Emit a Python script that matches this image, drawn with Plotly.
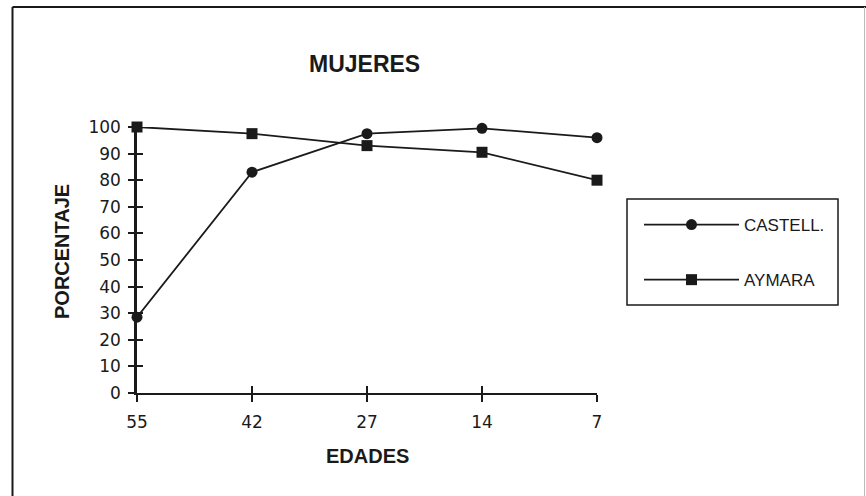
import plotly.graph_objects as go

edades = ["55", "42", "27", "14", "7"]
castell = [28.5, 83, 97.5, 99.5, 96]
aymara = [100, 97.5, 93, 90.5, 80]
y_ticks = [0, 10, 20, 30, 40, 50, 60, 70, 80, 90, 100]

W, H = 866, 496
L, R, T, B = 137, 269, 127, 103
PW, PH = W - L - R, H - T - B

def px(x):
    return (x - L) / PW

def py(y):
    return (H - B - y) / PH

INK = "#1a1a1a"
TICKFONT = dict(family="DejaVu Sans", size=17, color=INK)
BOLD = "Liberation Sans"

fig = go.Figure()
fig.add_trace(go.Scatter(
    x=edades, y=castell, name="CASTELL.", mode="lines+markers",
    line=dict(color=INK, width=1.8),
    marker=dict(symbol="circle", size=11, color=INK),
    cliponaxis=False, legendgroup="a",
))
fig.add_trace(go.Scatter(
    x=edades, y=aymara, name="AYMARA", mode="lines+markers",
    line=dict(color=INK, width=1.8),
    marker=dict(symbol="square", size=11, color=INK),
    cliponaxis=False, legendgroup="b",
))

fig.update_layout(
    width=W, height=H,
    margin=dict(l=L, r=R, t=T, b=B),
    paper_bgcolor="white", plot_bgcolor="white",
    showlegend=True,
    legend=dict(
        x=px(639), y=py(207), xanchor="left", yanchor="top",
        borderwidth=0, bgcolor="rgba(0,0,0,0)",
        font=dict(family="Liberation Sans", size=17, color=INK),
        itemwidth=95, tracegroupgap=30,
    ),
    xaxis=dict(
        type="category", range=[0, 4],
        showline=True, linecolor=INK, linewidth=1.8,
        showgrid=False, zeroline=False,
        ticks="outside", ticklen=7, tickwidth=1.5, tickcolor=INK,
        tickfont=TICKFONT, ticklabelstandoff=6,
    ),
    yaxis=dict(
        range=[0, 100], tickvals=y_ticks,
        showline=True, linecolor=INK, linewidth=2.5,
        showgrid=False, zeroline=False,
        ticks="outside", ticklen=6, tickwidth=1.5, tickcolor=INK,
        tickfont=TICKFONT, ticklabelstandoff=4,
    ),
    xaxis2=dict(
        overlaying="x", range=[0, 4], tickvals=[0, 1, 2, 3, 4],
        showticklabels=False, ticks="inside", ticklen=7, tickwidth=1.5,
        tickcolor=INK, showgrid=False, zeroline=False, showline=False,
    ),
    yaxis2=dict(
        overlaying="y", range=[0, 100], tickvals=y_ticks,
        showticklabels=False, ticks="inside", ticklen=6, tickwidth=1.5,
        tickcolor=INK, showgrid=False, zeroline=False, showline=False,
    ),
)
# invisible trace to activate overlay axes
fig.add_trace(go.Scatter(x=[None], y=[None], xaxis="x2", yaxis="y2",
                         showlegend=False, hoverinfo="skip"))

ann = dict(xref="paper", yref="paper", showarrow=False,
           xanchor="center", yanchor="middle")
fig.add_annotation(text="<b>MUJERES</b>", x=px(364), y=py(64),
                   font=dict(family=BOLD, size=23, color=INK), **ann)
fig.add_annotation(text="<b>PORCENTAJE</b>", x=px(62), y=py(252),
                   textangle=-90,
                   font=dict(family=BOLD, size=20, color=INK), **ann)
fig.add_annotation(text="<b>EDADES</b>", x=px(367), y=py(456),
                   font=dict(family=BOLD, size=20, color=INK), **ann)

# legend box
fig.add_shape(type="rect", xref="paper", yref="paper",
              x0=px(627), x1=px(838), y0=py(305), y1=py(199),
              line=dict(color=INK, width=1.5), layer="below")

# outer frame
fig.add_shape(type="line", xref="paper", yref="paper",
              x0=px(12.5), x1=px(12.5), y0=py(7), y1=py(500),
              line=dict(color=INK, width=2))
fig.add_shape(type="line", xref="paper", yref="paper",
              x0=px(12.5), x1=px(866), y0=py(7), y1=py(7),
              line=dict(color=INK, width=2))
fig.add_shape(type="line", xref="paper", yref="paper",
              x0=px(864.5), x1=px(864.5), y0=py(7), y1=py(500),
              line=dict(color="#bbbbbb", width=1))

fig.write_html("out.html", config={"displayModeBar": False},
               post_script="document.body.style.margin='0px';")
